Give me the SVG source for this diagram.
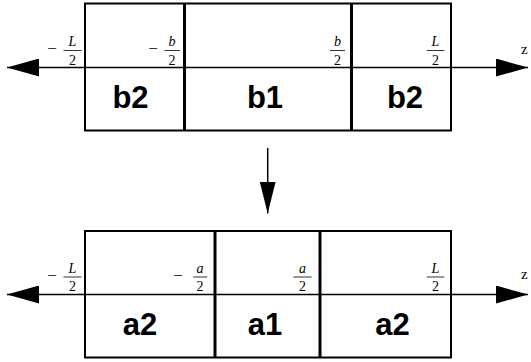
<svg xmlns="http://www.w3.org/2000/svg" width="531" height="362" viewBox="0 0 531 362">
<style>
.box{fill:none;stroke:#000;stroke-width:2}
.div{stroke:#000;stroke-width:3}
.axis{stroke:#000;stroke-width:1.5;fill:none}
.lbl{font-family:"Liberation Sans",Arial,sans-serif;font-weight:bold;font-size:31px;text-anchor:middle;fill:#000}
.v{font-family:"Liberation Serif","Times New Roman",serif;font-style:italic;font-size:14px;text-anchor:middle;fill:#000}
.n{font-family:"Liberation Serif","Times New Roman",serif;font-size:14px;text-anchor:middle;fill:#000}
.m{font-family:"Liberation Serif","Times New Roman",serif;font-size:17px;text-anchor:middle;fill:#000}
.bar{stroke:#000;stroke-width:0.8}
.z{font-family:"Liberation Serif","Times New Roman",serif;font-size:15px;fill:#000}
</style>
<defs>
<marker id="ah" viewBox="0 0 32 18" refX="32" refY="9" markerWidth="32" markerHeight="18" markerUnits="userSpaceOnUse" orient="auto">
<path d="M0,0 L32,9 L0,18 Z" fill="#000"/>
</marker>
<marker id="ahd" viewBox="0 0 32 16" refX="32" refY="8" markerWidth="32" markerHeight="16" markerUnits="userSpaceOnUse" orient="auto">
<path d="M0,0 L32,8 L0,16 Z" fill="#000"/>
</marker>
</defs>
<g id="connectors">
<line class="axis" x1="268" y1="67.5" x2="7" y2="67.5" marker-end="url(#ah)"/>
<line class="axis" x1="268" y1="67.5" x2="528" y2="67.5" marker-end="url(#ah)"/>
<line class="axis" x1="268" y1="294.5" x2="7" y2="294.5" marker-end="url(#ah)"/>
<line class="axis" x1="268" y1="294.5" x2="528" y2="294.5" marker-end="url(#ah)"/>
<line class="axis" x1="267.7" y1="148" x2="267.7" y2="213.5" marker-end="url(#ahd)"/>
</g>
<g id="top-box">
<rect class="box" x="85" y="3.5" width="366" height="127"/>
<line class="div" x1="184.5" y1="3" x2="184.5" y2="131"/>
<line class="div" x1="351.5" y1="3" x2="351.5" y2="131"/>
</g>
<g id="b2-left"><text class="lbl" x="130.5" y="108">b2</text></g>
<g id="b1"><text class="lbl" x="265" y="108">b1</text></g>
<g id="b2-right"><text class="lbl" x="405" y="108">b2</text></g>
<g id="top-labels">
<text class="m" x="52" y="54">−</text>
<text class="v" x="72.5" y="46">L</text><line class="bar" x1="63.5" y1="50.5" x2="81.5" y2="50.5"/><text class="n" x="72.5" y="64.5">2</text>
<text class="m" x="153" y="54">−</text>
<text class="v" x="172" y="46">b</text><line class="bar" x1="164.5" y1="50.5" x2="180" y2="50.5"/><text class="n" x="172" y="64.5">2</text>
<text class="v" x="337.5" y="46">b</text><line class="bar" x1="330" y1="50.5" x2="345" y2="50.5"/><text class="n" x="337.5" y="64.5">2</text>
<text class="v" x="435.5" y="46">L</text><line class="bar" x1="426.7" y1="50.5" x2="444.3" y2="50.5"/><text class="n" x="435.5" y="64.5">2</text>
<text class="z" x="521" y="54">z</text>
</g>
<g id="bottom-box">
<rect class="box" x="85" y="231" width="366" height="126.5"/>
<line class="div" x1="215" y1="230.5" x2="215" y2="358"/>
<line class="div" x1="320" y1="230.5" x2="320" y2="358"/>
</g>
<g id="a2-left"><text class="lbl" x="140" y="335">a2</text></g>
<g id="a1"><text class="lbl" x="265" y="335">a1</text></g>
<g id="a2-right"><text class="lbl" x="392.5" y="335">a2</text></g>
<g id="bottom-labels">
<text class="m" x="52" y="281">−</text>
<text class="v" x="72.5" y="272.7">L</text><line class="bar" x1="63.5" y1="277" x2="81.5" y2="277"/><text class="n" x="72.5" y="291">2</text>
<text class="m" x="178" y="281">−</text>
<text class="v" x="200" y="272.7">a</text><line class="bar" x1="193.3" y1="277" x2="207.3" y2="277"/><text class="n" x="200" y="291">2</text>
<text class="v" x="302.5" y="272.7">a</text><line class="bar" x1="293.3" y1="277" x2="311.7" y2="277"/><text class="n" x="302.5" y="291">2</text>
<text class="v" x="435.5" y="272.7">L</text><line class="bar" x1="426.7" y1="277" x2="444.3" y2="277"/><text class="n" x="435.5" y="291">2</text>
<text class="z" x="521" y="279">z</text>
</g>
</svg>
